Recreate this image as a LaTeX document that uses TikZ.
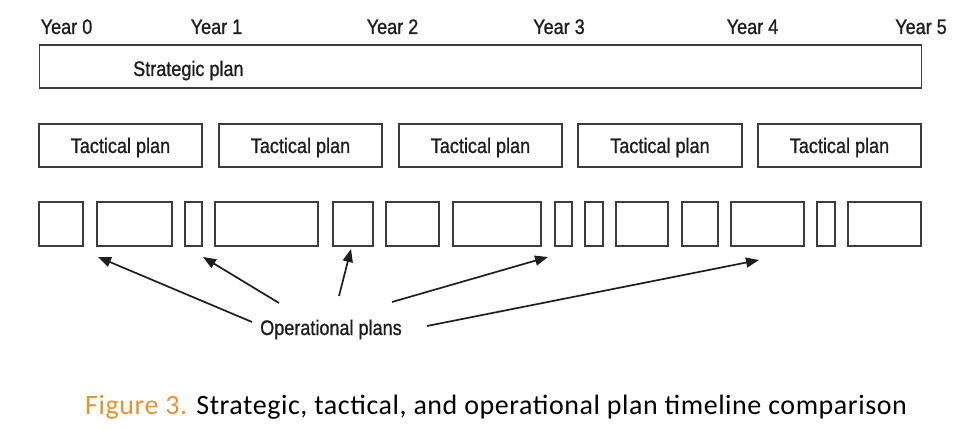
\documentclass[tikz,border=0pt]{standalone}
\usepackage{fontspec}
\usetikzlibrary{arrows.meta}
\newfontfamily\narrowsans[FakeStretch=0.86,FakeBold=1]{Liberation Sans}
\newfontfamily\captionfont[LetterSpace=2]{Carlito}
\definecolor{boxline}{HTML}{3C3C3C}
\definecolor{inktext}{HTML}{1E1E1E}
\definecolor{figorange}{HTML}{E8922E}
\tikzset{
  planbox/.style={draw=boxline, line width=1.8pt, rectangle, inner sep=0pt},
  yearlabel/.style={font=\narrowsans\fontsize{21}{21}\selectfont, text=inktext, anchor=base, inner sep=0pt},
  plantext/.style={font=\narrowsans\fontsize{21}{21}\selectfont, text=inktext, inner sep=0pt},
  pointer/.style={draw=inktext, line width=1.7pt, -{Triangle[length=13pt,width=10pt]}}
}
\begin{document}
\begin{tikzpicture}[x=1pt,y=-1pt]
\useasboundingbox (0,0) rectangle (972,430);

% year marks along the top
\node[yearlabel] (y0) at (66.5,34) {Year 0};
\node[yearlabel] (y1) at (216.5,34) {Year 1};
\node[yearlabel] (y2) at (392.5,34) {Year 2};
\node[yearlabel] (y3) at (559,34) {Year 3};
\node[yearlabel] (y4) at (752.5,34) {Year 4};
\node[yearlabel] (y5) at (921,34) {Year 5};

% strategic plan spanning all five years
\node[planbox, minimum width=882pt, minimum height=43pt] (strat) at (480.5,66.5) {};
\node[plantext, anchor=base west] (stratlbl) at (133,76) {Strategic plan};

% tactical plans, one per year
\foreach \n/\a/\b in {t1/39/202, t2/219/382, t3/399/562, t4/578/742, t5/758/921}{
  \node[planbox, minimum width={(\b-\a)*1pt}, minimum height=43pt] (\n) at ({(\a+\b)/2},145.5) {};
  \node[plantext, anchor=base] (\n lbl) at ({(\a+\b)/2},153) {Tactical plan};
}

% operational plans of varying length
\foreach \n/\a/\b in {o1/39/83, o2/97/172, o3/185/202, o4/215/318, o5/333/373,
                      o6/386/439, o7/453/541, o8/555/572, o9/585/603, o10/616/668,
                      o11/682/718, o12/731/804, o13/817/835, o14/848/921}{
  \node[planbox, minimum width={(\b-\a)*1pt}, minimum height=44pt] (\n) at ({(\a+\b)/2},224) {};
}

% label and pointers to a few operational plans
\node[plantext, anchor=base west] (ops) at (260,335) {Operational plans};

\coordinate (s1) at (252,322);  \coordinate (e1) at (98,257);
\coordinate (s2) at (279,303);  \coordinate (e2) at (203,257);
\coordinate (s3) at (339,296);  \coordinate (e3) at (351,249);
\coordinate (s4) at (392,302);  \coordinate (e4) at (548,257);
\coordinate (s5) at (427,326);  \coordinate (e5) at (759,260);

\foreach \i in {1,...,5}{
  \draw[pointer] (s\i) -- (e\i);
}

% figure caption
\node[font=\captionfont\fontsize{28}{28}\selectfont, anchor=base west, inner sep=0pt] (cap) at (85,414)
  {\textcolor{figorange}{Figure 3.} Strategic, tactical, and operational plan timeline comparison};
\end{tikzpicture}
\end{document}
